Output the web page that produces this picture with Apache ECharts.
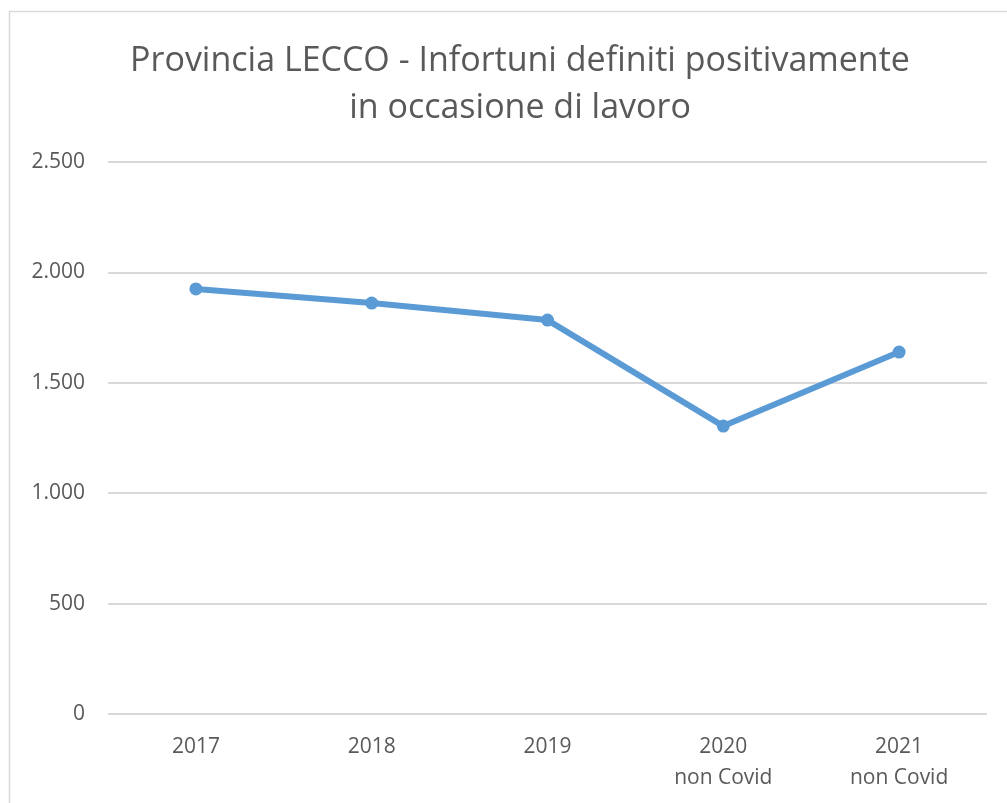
<!DOCTYPE html>
<html>
<head>
<meta charset="utf-8">
<script src="https://cdn.jsdelivr.net/npm/echarts@6/dist/echarts.min.js"></script>
<style>
  html, body { margin: 0; padding: 0; background: #fff; overflow: hidden; }
  #chart { width: 1007px; height: 803px; }
</style>
</head>
<body>
<div id="chart"></div>
<script>
const years = ["2017", "2018", "2019", "2020\nnon Covid", "2021\nnon Covid"];
const infortuni = [1925, 1861, 1784, 1304, 1639];
const yTicks = { min: 0, max: 2500, interval: 500 };

const textGray = "#595959";
const fontFamily = "'Open Sans', 'Noto Sans', sans-serif";

const chart = echarts.init(document.getElementById("chart"));
chart.setOption({
  animation: false,
  title: {
    text: "Provincia LECCO - Infortuni definiti positivamente\nin occasione di lavoro",
    left: 515,
    top: 33,
    textAlign: "center",
    textStyle: {
      color: textGray,
      fontFamily,
      fontSize: 34,
      fontWeight: "normal",
      lineHeight: 47,
    },
  },
  graphic: [
    {
      type: "rect",
      shape: { x: 9.5, y: 11.5, width: 1020, height: 820 },
      style: { fill: "none", stroke: "#d9d9d9", lineWidth: 1.5 },
      silent: true,
    },
  ],
  grid: { left: 108, right: 20, top: 162, bottom: 89 },
  xAxis: {
    type: "category",
    data: years,
    boundaryGap: true,
    axisLine: { show: false },
    axisTick: { show: false },
    axisLabel: {
      color: textGray,
      fontFamily,
      fontSize: 21,
      margin: 18,
      lineHeight: 31,
    },
  },
  yAxis: {
    type: "value",
    ...yTicks,
    axisLine: { show: false },
    axisTick: { show: false },
    splitLine: { lineStyle: { color: "#d9d9d9", width: 2 } },
    axisLabel: {
      color: textGray,
      fontFamily,
      fontSize: 21,
      margin: 23,
      formatter: (v) => v.toLocaleString("it-IT").replace(/\u00a0/g, "").replace(/,/g, "."),
    },
  },
  series: [
    {
      type: "line",
      data: infortuni,
      symbol: "circle",
      symbolSize: 13,
      lineStyle: { color: "#5b9bd5", width: 6 },
      itemStyle: { color: "#5b9bd5" },
    },
  ],
});
</script>
</body>
</html>
